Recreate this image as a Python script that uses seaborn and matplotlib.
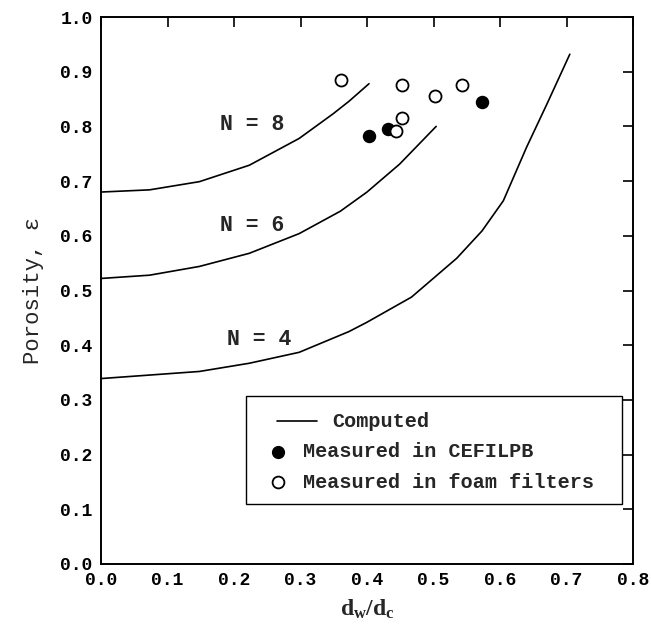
import matplotlib
matplotlib.use("Agg")
import matplotlib.pyplot as plt
from matplotlib.patches import Rectangle
import seaborn as sns
import pandas as pd

# ---- data ----
n8_x = [0.0, 0.073, 0.148, 0.223, 0.298, 0.349, 0.373, 0.403]
n8_y = [0.680, 0.684, 0.699, 0.729, 0.778, 0.823, 0.846, 0.878]

n6_x = [0.0, 0.073, 0.148, 0.223, 0.298, 0.36, 0.40, 0.449, 0.504]
n6_y = [0.522, 0.528, 0.544, 0.568, 0.604, 0.645, 0.680, 0.731, 0.800]

n4_x = [0.0, 0.148, 0.223, 0.298, 0.373, 0.40, 0.467, 0.535, 0.573, 0.605, 0.640, 0.671, 0.705]
n4_y = [0.339, 0.352, 0.367, 0.387, 0.425, 0.442, 0.488, 0.559, 0.609, 0.664, 0.762, 0.842, 0.932]

cefil_x = [0.403, 0.432, 0.573]
cefil_y = [0.782, 0.796, 0.844]

foam_x = [0.361, 0.452, 0.453, 0.443, 0.503, 0.543]
foam_y = [0.885, 0.875, 0.815, 0.791, 0.855, 0.875]

curve_labels = ["N = 8", "N = 6", "N = 4"]
label_pos_x = [0.228, 0.228, 0.238]
label_pos_y = [0.803, 0.618, 0.41]

xticks = [0.0, 0.1, 0.2, 0.3, 0.4, 0.5, 0.6, 0.7, 0.8]
yticks = [0.0, 0.1, 0.2, 0.3, 0.4, 0.5, 0.6, 0.7, 0.8, 0.9, 1.0]

legend_labels = ["Computed", "Measured in CEFILPB", "Measured in foam filters"]

# ---- build frames ----
curves = pd.concat([
    pd.DataFrame({"x": n8_x, "y": n8_y, "N": "8"}),
    pd.DataFrame({"x": n6_x, "y": n6_y, "N": "6"}),
    pd.DataFrame({"x": n4_x, "y": n4_y, "N": "4"}),
], ignore_index=True)
cefil = pd.DataFrame({"x": cefil_x, "y": cefil_y})
foam = pd.DataFrame({"x": foam_x, "y": foam_y})

sns.set_theme(style="white")
plt.rcParams["font.family"] = ["Liberation Mono", "DejaVu Sans"]
plt.rcParams["font.weight"] = "bold"
plt.rcParams["mathtext.fontset"] = "custom"
plt.rcParams["mathtext.rm"] = "Liberation Serif:bold"
plt.rcParams["mathtext.it"] = "Liberation Serif:bold"
plt.rcParams["mathtext.bf"] = "Liberation Serif:bold"

fig = plt.figure(figsize=(6.51, 6.37), dpi=100)
ax = fig.add_axes([101 / 651, 1 - 564 / 637, 532 / 651, 547 / 637])

sns.lineplot(data=curves, x="x", y="y", units="N", estimator=None, sort=False,
             color="black", linewidth=1.2, ax=ax, legend=False)
sns.scatterplot(data=cefil, x="x", y="y", ax=ax, color="black", edgecolor="black",
                s=75, linewidth=1.0, legend=False, zorder=3)
sns.scatterplot(data=foam, x="x", y="y", ax=ax, facecolor="white", edgecolor="black",
                s=75, linewidth=1.3, legend=False, zorder=3)

for lab, lx, ly in zip(curve_labels, label_pos_x, label_pos_y):
    ax.text(lx, ly, lab, ha="center", va="center", fontsize=15.5,
            fontweight="bold", family=["Liberation Mono"])

ax.set_xlim(0, 0.8)
ax.set_ylim(0, 1.0)
ax.set_xticks(xticks)
ax.set_yticks(yticks)
ax.set_xticklabels([f"{v:.1f}" for v in xticks], fontsize=13, fontweight="bold")
ax.set_yticklabels([f"{v:.1f}" for v in yticks], fontsize=13, fontweight="bold")
ax.tick_params(direction="in", length=7, width=1.2, top=True, right=True,
               colors="black", pad=6)
for sp in ax.spines.values():
    sp.set_color("black")
    sp.set_linewidth(1.4)

ax.set_xlabel(r"$\mathrm{d_w/d_c}$", fontsize=17, labelpad=6)
ax.set_ylabel("Porosity, ε", fontsize=16, family=["Liberation Mono"],
              fontweight="normal", labelpad=12)

# ---- legend box (custom layout: "Computed" is indented as in the original) ----
ax.add_patch(Rectangle((0.2726, 0.1097), 0.979 - 0.2726, 0.307 - 0.1097,
                       transform=ax.transAxes, facecolor="white",
                       edgecolor="black", linewidth=1.0, zorder=4))
row_y = [0.261, 0.2048, 0.1499]
ax.plot([0.331, 0.406], [row_y[0], row_y[0]], transform=ax.transAxes,
        color="black", linewidth=1.2, zorder=5)
ax.plot([0.333], [row_y[1]], transform=ax.transAxes, marker="o", linestyle="none",
        markerfacecolor="black", markeredgecolor="black", markersize=8.5, zorder=5)
ax.plot([0.333], [row_y[2]], transform=ax.transAxes, marker="o", linestyle="none",
        markerfacecolor="white", markeredgecolor="black", markersize=8.5,
        markeredgewidth=1.3, zorder=5)
text_x = [0.434, 0.380, 0.380]
for lab, tx, ty in zip(legend_labels, text_x, row_y):
    ax.text(tx, ty, lab, transform=ax.transAxes, ha="left", va="center",
            fontsize=14.5, fontweight="bold", family=["Liberation Mono"], zorder=5)

fig.savefig("out.png", dpi=100)
